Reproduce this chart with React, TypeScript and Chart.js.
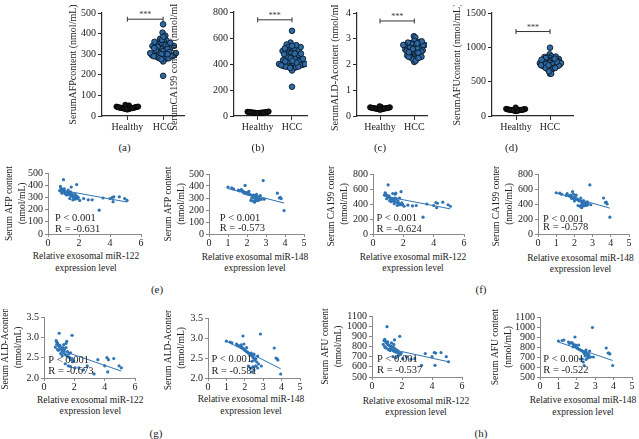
import React, { useEffect, useRef } from "react";
import { Chart, registerables } from "chart.js";
Chart.register(...registerables);

const SERIF = '"Liberation Serif", "Times New Roman", serif';

// ---------------- data ----------------
const GROUPS = ["Healthy", "HCC"];

const HEALTHY_AFP = [38, 42, 35, 45, 40, 33, 47, 39, 44, 36, 41, 50, 37, 43, 34, 46, 40, 38, 52, 35, 42, 39, 44, 31, 48, 41, 37, 45, 40, 36, 55, 43, 38, 33, 46];
const HEALTHY_CA199 = [25, 28, 22, 30, 26, 24, 32, 27, 29, 23, 31, 26, 28, 25, 33, 21, 27, 30, 24, 29, 26, 35, 23, 28, 27, 31, 25, 22, 30, 26];
const HEALTHY_ALD = [0.3, 0.28, 0.33, 0.26, 0.31, 0.29, 0.35, 0.27, 0.32, 0.3, 0.25, 0.34, 0.29, 0.31, 0.28, 0.36, 0.27, 0.3, 0.33, 0.26, 0.32, 0.29, 0.31, 0.38, 0.28, 0.3, 0.24, 0.34, 0.29, 0.31];
const HEALTHY_AFU = [85, 92, 78, 100, 88, 95, 70, 105, 82, 90, 98, 76, 87, 110, 93, 80, 89, 96, 73, 102, 86, 91, 84, 99, 79, 94, 88, 125, 83, 90];

// HCC patients
const MIR122 = [1.0, 3.3, 1.85, 0.8, 0.85, 0.9, 0.95, 1.0, 1.05, 1.1, 1.15, 0.85, 0.9, 0.95, 1.05, 1.2, 1.25, 1.3, 1.35, 1.4, 1.45, 1.5, 1.55, 1.6, 1.65, 1.7, 1.75, 1.8, 1.85, 1.9, 1.95, 1.2, 1.1, 1.4, 1.6, 1.75, 2.05, 2.3, 2.6, 2.85, 3.55, 4.0, 4.15, 4.2, 4.25, 4.6, 4.95, 5.1, 1.45, 1.5, 0.75, 1.3];
const MIR148 = [2.85, 3.95, 1.9, 1.0, 1.3, 1.55, 1.75, 1.8, 1.85, 1.9, 1.95, 1.8, 2.0, 2.05, 1.7, 2.1, 1.85, 2.2, 2.0, 2.3, 1.95, 2.4, 2.15, 2.45, 2.25, 2.5, 2.35, 2.55, 2.6, 2.65, 2.4, 2.7, 2.5, 2.75, 2.6, 2.45, 2.3, 2.7, 2.5, 2.2, 3.8, 2.6, 3.7, 2.4, 2.55, 3.75, 2.9, 2.35, 3.6, 1.2, 2.1, 1.6];
const AFP = [445, 195, 405, 390, 375, 365, 360, 355, 350, 345, 340, 350, 335, 345, 370, 330, 340, 325, 335, 320, 345, 310, 330, 315, 300, 305, 325, 295, 310, 290, 300, 320, 330, 290, 280, 285, 275, 290, 280, 280, 295, 290, 300, 265, 305, 305, 290, 275, 340, 385, 355, 360];
const CA199 = [655, 225, 565, 550, 530, 515, 505, 500, 495, 485, 480, 520, 470, 500, 510, 460, 475, 455, 440, 450, 530, 430, 470, 420, 440, 410, 480, 400, 390, 415, 395, 430, 445, 405, 380, 390, 370, 385, 375, 380, 400, 380, 420, 350, 410, 425, 390, 370, 480, 545, 520, 540];
const ALD = [3.1, 2.1, 3.05, 2.92, 2.88, 2.85, 2.8, 2.78, 2.76, 2.74, 2.72, 2.83, 2.7, 2.68, 2.8, 2.66, 2.75, 2.62, 2.7, 2.58, 2.85, 2.55, 2.65, 2.52, 2.6, 2.5, 2.62, 2.45, 2.48, 2.4, 2.42, 2.55, 2.6, 2.35, 2.3, 2.28, 2.25, 2.25, 2.2, 2.3, 2.45, 2.3, 2.5, 2.15, 2.45, 2.48, 2.3, 2.25, 2.75, 2.9, 2.76, 2.82];
const AFU = [995, 615, 900, 860, 870, 850, 840, 830, 820, 815, 810, 800, 790, 785, 845, 780, 805, 770, 795, 760, 820, 750, 775, 745, 765, 740, 755, 730, 720, 725, 735, 760, 770, 700, 690, 710, 680, 700, 675, 680, 730, 700, 740, 615, 735, 740, 700, 650, 790, 865, 820, 835];

// significance bracket levels
const SIG_LEVELS = [470, 740, 3.69, 1230];

// trend lines (end points)
const TREND_X_122 = [0.75, 5.1];
const TREND_X_148 = [1.0, 3.95];
const TREND_AFP_122 = [362, 262];
const TREND_AFP_148 = [378, 258];
const TREND_CA_122 = [505, 335];
const TREND_CA_148 = [548, 345];
const TREND_ALD_122 = [2.73, 2.17];
const TREND_ALD_148 = [2.92, 2.23];
const TREND_AFU_122 = [790, 650];
const TREND_AFU_148 = [850, 665];

// tick values / labels
const TICKS_AFP = [0, 100, 200, 300, 400, 500];
const TICKS_CA_TOP = [0, 200, 400, 600, 800];
const TICKS_ALD_TOP = [0, 1, 2, 3, 4];
const TICKS_AFU_TOP = [0, 500, 1000, 1500];
const TICKS_ALD = [2.0, 2.5, 3.0, 3.5];
const LABELS_ALD = ["2.0", "2.5", "3.0", "3.5"];
const TICKS_AFU = [500, 600, 700, 800, 900, 1000, 1100];
const TICKS_X6 = [0, 2, 4, 6];
const TICKS_X5 = [0, 1, 2, 3, 4, 5];

// ---------------- helpers ----------------
// deterministic beeswarm layout (pixel offsets), compressed to a maximum half width
function swarm(vals: number[], pxPerVal: number, d: number, maxHalf: number): number[] {
  const order = vals.map((_, i) => i).sort((a, b) => vals[a] - vals[b]);
  const placed: { x: number; y: number }[] = [];
  const out = new Array(vals.length).fill(0);
  for (const i of order) {
    const y = vals[i] * pxPerVal;
    const near = placed.filter((p) => Math.abs(p.y - y) < d);
    const cands = [0];
    for (const p of near) {
      const dx = Math.sqrt(d * d - (p.y - y) * (p.y - y));
      cands.push(p.x + dx, p.x - dx);
    }
    cands.sort((a, b) => Math.abs(a) - Math.abs(b));
    let x = 0;
    for (const c of cands) {
      if (near.every((p) => (p.x - c) ** 2 + (p.y - y) ** 2 >= d * d - 1e-6)) {
        x = c;
        break;
      }
    }
    placed.push({ x, y });
    out[i] = x;
  }
  const m = Math.max(...out.map((v) => Math.abs(v)), 1e-6);
  const k = m > maxHalf ? maxHalf / m : 1;
  return out.map((v) => v * k);
}

function geom(L: number, R: number, T: number, B: number, titleX: number, lh: number, XH: number, padTop: number, padRight: number) {
  const l = Math.round(L), r = Math.round(R), t = Math.round(T), b = Math.round(B);
  const left = Math.round(titleX - lh / 2);
  const YW = l - left;
  const top = t - padTop;
  const width = r - l + YW + padRight;
  const height = b - t + padTop + XH;
  return { left, top, width, height, YW, XH, padTop, padRight };
}

function textPlugin(items: any[]) {
  return {
    id: "panelText",
    afterDatasetsDraw(chart: any) {
      const ctx = chart.ctx;
      const ca = chart.chartArea;
      ctx.save();
      for (const it of items) {
        ctx.font = it.font;
        ctx.fillStyle = it.color || "#222";
        ctx.textAlign = it.align || "left";
        ctx.textBaseline = "middle";
        let x: number, y: number;
        if (it.mode === "data") {
          x = chart.scales.x.getPixelForValue(it.x);
          y = chart.scales.y.getPixelForValue(it.y) + (it.dy || 0);
        } else {
          x = ca.left + it.dx;
          y = ca.bottom - it.dyb;
        }
        ctx.fillText(it.text, x, y);
      }
      ctx.restore();
    },
  };
}

function fixedTicks(vals: number[]) {
  return (s: any) => {
    s.ticks = vals.map((v) => ({ value: v }));
  };
}

// ---------------- top row (dot plots) ----------------
type TopCfg = {
  L: number; R: number; T: number; B: number; hx: number; cx: number; titleX: number; title: string;
  yMax: number; yTicks: number[]; sig: number; healthy: number[]; hcc: number[]; wH: number; wC: number;
};

const TOP: TopCfg[] = [
  { L: 101.5, R: 184, T: 13, B: 115.7, hx: 127, cx: 163, titleX: 72.5, title: "SerumAFPcontent (nmol/mL)", yMax: 500, yTicks: TICKS_AFP, sig: SIG_LEVELS[0], healthy: HEALTHY_AFP, hcc: AFP, wH: 11, wC: 13 },
  { L: 234, R: 307, T: 12.3, B: 115.7, hx: 257.7, cx: 292, titleX: 174, title: "SerumCA199 content (nmol/mL)", yMax: 800, yTicks: TICKS_CA_TOP, sig: SIG_LEVELS[1], healthy: HEALTHY_CA199, hcc: CA199, wH: 11, wC: 13 },
  { L: 357, R: 427, T: 13, B: 115.7, hx: 380, cx: 414.3, titleX: 335, title: "SerumALD-Acontent (nmol/mL)", yMax: 4, yTicks: TICKS_ALD_TOP, sig: SIG_LEVELS[2], healthy: HEALTHY_ALD, hcc: ALD, wH: 10, wC: 11 },
  { L: 492, R: 573, T: 13.3, B: 115.7, hx: 516, cx: 550, titleX: 456.7, title: "SerumAFUcontent (nmol/mL)", yMax: 1500, yTicks: TICKS_AFU_TOP, sig: SIG_LEVELS[3], healthy: HEALTHY_AFU, hcc: AFU, wH: 10, wC: 11 },
];

function buildTop(p: TopCfg) {
  const g = geom(p.L, p.R, p.T, p.B, p.titleX, 12, 22, 8, 8);
  const unit = p.cx - p.hx;
  const xMin = (p.L - p.hx) / unit;
  const xMax = (p.R - p.hx) / unit;
  const pxPerVal = (p.B - p.T) / p.yMax;
  const offH = swarm(p.healthy, pxPerVal, 3, p.wH);
  const offC = swarm(p.hcc, pxPerVal, 4.6, p.wC);
  const healthyPts = p.healthy.map((v, i) => ({ x: 0 + offH[i] / unit, y: v }));
  const hccPts = p.hcc.map((v, i) => ({ x: 1 + offC[i] / unit, y: v }));
  const axisColor = "#2a2a2a";
  const config: any = {
    type: "scatter",
    data: {
      datasets: [
        { data: healthyPts, pointRadius: 2.6, backgroundColor: "#151515", borderColor: "#000", borderWidth: 0.6 },
        { data: hccPts, pointRadius: 2.8, backgroundColor: "#2d6aa3", borderColor: "#0c1826", borderWidth: 0.9 },
        {
          type: "line",
          data: [{ x: 0, y: p.sig }, { x: 1, y: p.sig }],
          borderColor: "#333", borderWidth: 1, pointStyle: "line", rotation: 90, pointRadius: 2.5,
          pointBorderColor: "#333", pointBorderWidth: 1, showLine: true,
        },
      ],
    },
    options: {
      responsive: false, maintainAspectRatio: false, animation: false, devicePixelRatio: 1,
      layout: { padding: { top: g.padTop, right: g.padRight, left: 0, bottom: 0 } },
      plugins: { legend: { display: false }, tooltip: { enabled: false } },
      scales: {
        x: {
          type: "linear", min: xMin, max: xMax,
          afterBuildTicks: fixedTicks([0, 1]),
          afterFit: (s: any) => { s.height = g.XH; },
          ticks: { autoSkip: false, maxRotation: 0, padding: 1, color: "#222", font: { family: SERIF, size: 10 }, callback: (_v: any, i: number) => GROUPS[i] },
          grid: { drawOnChartArea: false, drawTicks: true, tickLength: 4, color: axisColor, lineWidth: 1 },
          border: { display: true, color: axisColor, width: 1.2 },
        },
        y: {
          type: "linear", min: 0, max: p.yMax,
          afterBuildTicks: fixedTicks(p.yTicks),
          afterFit: (s: any) => { s.width = g.YW; },
          ticks: { autoSkip: false, padding: 2, color: "#222", font: { family: SERIF, size: 10 }, callback: (v: any) => String(v) },
          grid: { drawOnChartArea: false, drawTicks: true, tickLength: 4, color: axisColor, lineWidth: 1 },
          border: { display: true, color: axisColor, width: 1.2 },
          title: { display: true, text: p.title, padding: 0, color: "#222", font: { family: SERIF, size: 10, lineHeight: 1.2 } },
        },
      },
    },
    plugins: [textPlugin([{ mode: "data", x: 0.5, y: p.sig, dy: -4, text: "***", font: `8px ${SERIF}`, align: "center", color: "#333" }])],
  };
  return { g, config };
}

// ---------------- scatter panels ----------------
type ScCfg = {
  L: number; R: number; T: number; B: number; titleX: number; yTitle: string[];
  xMax: number; xTicks: number[]; yMin: number; yMax: number; yTicks: number[]; yLabels?: string[];
  xs: number[]; ys: number[]; tx: number[]; ty: number[];
  pDx: number; pDyb: number; rDyb: number; rText: string;
  xTitle: string[]; xTitleX: number; xTitleY: number;
};

const SC: ScCfg[] = [
  { L: 48, R: 140.7, T: 173.3, B: 234.3, titleX: 9, yTitle: ["Serum AFP content", "(nmol/mL)"], xMax: 6, xTicks: TICKS_X6, yMin: 0, yMax: 500, yTicks: TICKS_AFP, xs: MIR122, ys: AFP, tx: TREND_X_122, ty: TREND_AFP_122, pDx: 7, pDyb: 15.3, rDyb: 4.3, rText: "R = -0.631", xTitle: ["Relative exosomal miR-122", "expression level"], xTitleX: 86, xTitleY: 257 },
  { L: 209.3, R: 304, T: 174.3, B: 234.3, titleX: 168, yTitle: ["Serum AFP content", "(nmol/mL)"], xMax: 5, xTicks: TICKS_X5, yMin: 0, yMax: 500, yTicks: TICKS_AFP, xs: MIR148, ys: AFP, tx: TREND_X_148, ty: TREND_AFP_148, pDx: 10.7, pDyb: 16, rDyb: 6, rText: "R = -0.573", xTitle: ["Relative exosomal miR-148", "expression level"], xTitleX: 255, xTitleY: 257.3 },
  { L: 373.3, R: 464, T: 174.3, B: 234.3, titleX: 331.7, yTitle: ["Serum CA199 content", "(nmol/mL)"], xMax: 6, xTicks: TICKS_X6, yMin: 0, yMax: 800, yTicks: TICKS_CA_TOP, xs: MIR122, ys: CA199, tx: TREND_X_122, ty: TREND_CA_122, pDx: 3.4, pDyb: 15.3, rDyb: 5, rText: "R = -0.624", xTitle: ["Relative exosomal miR-122", "expression level"], xTitleX: 413, xTitleY: 257.3 },
  { L: 538.3, R: 629.3, T: 174.3, B: 234.3, titleX: 496.7, yTitle: ["Serum CA199 content", "(nmol/mL)"], xMax: 5, xTicks: TICKS_X5, yMin: 0, yMax: 800, yTicks: TICKS_CA_TOP, xs: MIR148, ys: CA199, tx: TREND_X_148, ty: TREND_CA_148, pDx: 5, pDyb: 15, rDyb: 7, rText: "R = -0.578", xTitle: ["Relative exosomal miR-148", "expression level"], xTitleX: 580.5, xTitleY: 258.3 },
  { L: 44, R: 135, T: 316.7, B: 378.3, titleX: 5, yTitle: ["Serum ALD-Acontent", "(nmol/mL)"], xMax: 6, xTicks: TICKS_X6, yMin: 2, yMax: 3.5, yTicks: TICKS_ALD, yLabels: LABELS_ALD, xs: MIR122, ys: ALD, tx: TREND_X_122, ty: TREND_ALD_122, pDx: 4.3, pDyb: 17.6, rDyb: 6.6, rText: "R = -0.673", xTitle: ["Relative exosomal miR-122", "expression level"], xTitleX: 90.3, xTitleY: 400.7 },
  { L: 208.3, R: 300, T: 317.7, B: 377.7, titleX: 168.3, yTitle: ["Serum ALD-Acontent", "(nmol/mL)"], xMax: 5, xTicks: TICKS_X5, yMin: 2, yMax: 3.5, yTicks: TICKS_ALD, yLabels: LABELS_ALD, xs: MIR148, ys: ALD, tx: TREND_X_148, ty: TREND_ALD_148, pDx: 3.4, pDyb: 18.4, rDyb: 7, rText: "R = -0.581", xTitle: ["Relative exosomal miR-148", "expression level"], xTitleX: 251, xTitleY: 400 },
  { L: 371.7, R: 461.7, T: 315.7, B: 377.3, titleX: 325, yTitle: ["Serum AFU content", "(nmol/mL)"], xMax: 6, xTicks: TICKS_X6, yMin: 500, yMax: 1100, yTicks: TICKS_AFU, xs: MIR122, ys: AFU, tx: TREND_X_122, ty: TREND_AFU_122, pDx: 5, pDyb: 17.3, rDyb: 6.3, rText: "R = -0.537", xTitle: ["Relative exosomal miR-122", "expression level"], xTitleX: 416, xTitleY: 401.7 },
  { L: 540, R: 631.7, T: 316.7, B: 377.3, titleX: 495, yTitle: ["Serum AFU content", "(nmol/mL)"], xMax: 5, xTicks: TICKS_X5, yMin: 500, yMax: 1100, yTicks: TICKS_AFU, xs: MIR148, ys: AFU, tx: TREND_X_148, ty: TREND_AFU_148, pDx: 3.3, pDyb: 18, rDyb: 6.3, rText: "R = -0.522", xTitle: ["Relative exosomal miR-148", "expression level"], xTitleX: 583, xTitleY: 401 },
];

function buildScatter(p: ScCfg) {
  const lhPx = 13;
  const g = geom(p.L, p.R, p.T, p.B, p.titleX, lhPx, 16, 8, 8);
  const axisColor = "#8a8a8a";
  const blue = "#2e74b5";
  const config: any = {
    type: "scatter",
    data: {
      datasets: [
        { data: p.xs.map((x, i) => ({ x, y: p.ys[i] })), pointRadius: 1.6, backgroundColor: blue, borderWidth: 0 },
        { type: "line", data: p.tx.map((x, i) => ({ x, y: p.ty[i] })), borderColor: blue, borderWidth: 1, pointRadius: 0 },
      ],
    },
    options: {
      responsive: false, maintainAspectRatio: false, animation: false, devicePixelRatio: 1,
      layout: { padding: { top: g.padTop, right: g.padRight, left: 0, bottom: 0 } },
      plugins: { legend: { display: false }, tooltip: { enabled: false } },
      scales: {
        x: {
          type: "linear", min: 0, max: p.xMax,
          afterBuildTicks: fixedTicks(p.xTicks),
          afterFit: (s: any) => { s.height = g.XH; },
          ticks: { autoSkip: false, maxRotation: 0, padding: 0, color: "#222", font: { family: SERIF, size: 10 }, callback: (v: any) => String(v) },
          grid: { drawOnChartArea: false, drawTicks: true, tickLength: 3, color: axisColor, lineWidth: 1 },
          border: { display: true, color: axisColor, width: 1 },
        },
        y: {
          type: "linear", min: p.yMin, max: p.yMax,
          afterBuildTicks: fixedTicks(p.yTicks),
          afterFit: (s: any) => { s.width = g.YW; },
          ticks: { autoSkip: false, padding: 2, color: "#222", font: { family: SERIF, size: 10 }, callback: (v: any, i: number) => (p.yLabels ? p.yLabels[i] : String(v)) },
          grid: { drawOnChartArea: false, drawTicks: true, tickLength: 3, color: axisColor, lineWidth: 1 },
          border: { display: true, color: axisColor, width: 1 },
          title: { display: true, text: p.yTitle, padding: 0, color: "#222", font: { family: SERIF, size: 9.5, lineHeight: lhPx / 9.5 } },
        },
      },
    },
    plugins: [
      textPlugin([
        { mode: "area", dx: p.pDx, dyb: p.pDyb, text: "P < 0.001", font: `10.5px ${SERIF}`, align: "left" },
        { mode: "area", dx: p.pDx, dyb: p.rDyb, text: p.rText, font: `10.5px ${SERIF}`, align: "left" },
      ]),
    ],
  };
  return { g, config };
}

// ---------------- components ----------------
function ChartBox({ built }: { built: { g: any; config: any } }) {
  const ref = useRef<HTMLCanvasElement>(null);
  useEffect(() => {
    const c = new Chart(ref.current as HTMLCanvasElement, built.config);
    return () => c.destroy();
  }, []);
  const g = built.g;
  return (
    <canvas
      ref={ref}
      width={g.width}
      height={g.height}
      style={{ position: "absolute", left: g.left, top: g.top, width: g.width, height: g.height }}
    />
  );
}

const SUB_LABELS = [
  { t: "(a)", x: 124.5, y: 147 },
  { t: "(b)", x: 258, y: 147 },
  { t: "(c)", x: 380, y: 147 },
  { t: "(d)", x: 511.5, y: 147 },
  { t: "(e)", x: 157, y: 289 },
  { t: "(f)", x: 481, y: 289 },
  { t: "(g)", x: 156, y: 433 },
  { t: "(h)", x: 481, y: 433 },
];

export default function App() {
  const tops = TOP.map(buildTop);
  const scs = SC.map(buildScatter);
  return (
    <div
      style={{
        position: "fixed", left: 0, top: 0, width: 639, height: 439, background: "#fff",
        overflow: "hidden", fontFamily: SERIF, color: "#222",
      }}
    >
      {tops.map((b, i) => <ChartBox key={"t" + i} built={b} />)}
      {scs.map((b, i) => <ChartBox key={"s" + i} built={b} />)}
      {SC.map((p, i) => (
        <div
          key={"xt" + i}
          style={{
            position: "absolute", left: p.xTitleX - 80, width: 160, top: p.xTitleY - 5.75,
            textAlign: "center", fontSize: 9.5, lineHeight: "11.5px", whiteSpace: "nowrap",
          }}
        >
          {p.xTitle.map((l, j) => <div key={j}>{l}</div>)}
        </div>
      ))}
      {SUB_LABELS.map((s, i) => (
        <div
          key={"sl" + i}
          style={{ position: "absolute", left: s.x - 20, width: 40, top: s.y - 7, lineHeight: "14px", textAlign: "center", fontSize: 11 }}
        >
          {s.t}
        </div>
      ))}
    </div>
  );
}
